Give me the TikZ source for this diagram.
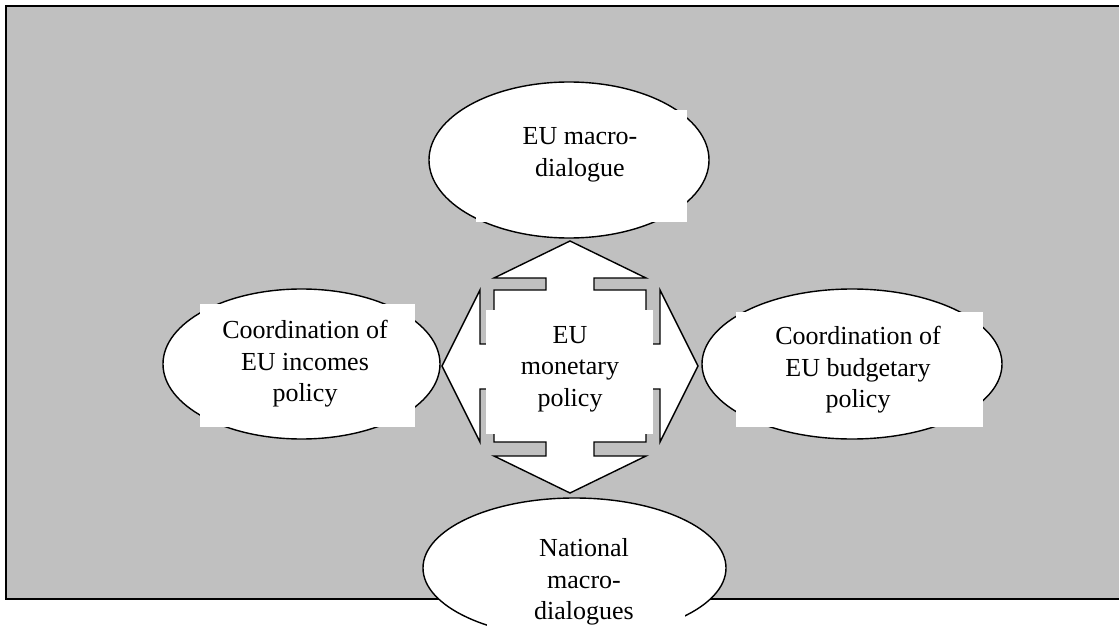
\documentclass[tikz,border=0pt]{standalone}
\usepackage{fontspec}
\setmainfont{Liberation Serif}
\usetikzlibrary{shapes.geometric}
\definecolor{panelgrey}{HTML}{C0C0C0}
\tikzset{
  bubble/.style={ellipse, draw=black, line width=1.4bp, fill=white, inner sep=0pt},
  textbox/.style={fill=white, draw=none, inner sep=0pt},
  label/.style={align=center, inner sep=0pt, font=\fontsize{26bp}{31.5bp}\selectfont},
  quadarrow/.style={draw=black, line width=1.4bp, fill=white, line join=miter}
}
\begin{document}
\begin{tikzpicture}[x=1bp,y=-1bp]
\useasboundingbox (0,0) rectangle (1119,638);
\clip (0,0) rectangle (1119,638);
% background panel
\draw[line width=2bp, fill=panelgrey] (6,6) rectangle (1130,599);
% ellipses
\node[bubble, minimum width=280bp, minimum height=156bp] (topE) at (569,160) {};
\node[bubble, minimum width=277bp, minimum height=150bp] (leftE) at (301.5,364) {};
\node[bubble, minimum width=300bp, minimum height=150bp] (rightE) at (852,364) {};
\node[bubble, minimum width=303bp, minimum height=140bp] (botE) at (574.5,568) {};
% four-way arrow
\draw[quadarrow] (570,241) -- (646,278) -- (594,278) -- (594,290) -- (646,290) -- (646,344)
  -- (660,344) -- (660,290) -- (698,366) -- (660,442) -- (660,389) -- (646,389) -- (646,442)
  -- (594,442) -- (594,456) -- (646,456) -- (570,493) -- (494,456) -- (546,456) -- (546,442)
  -- (494,442) -- (494,389) -- (480,389) -- (480,442) -- (442,366) -- (480,290) -- (480,344)
  -- (494,344) -- (494,290) -- (546,290) -- (546,278) -- (494,278) -- cycle;
% white text boxes
\fill[white] (476,110) rectangle (687,222);
\fill[white] (200,304) rectangle (415,427);
\fill[white] (736,312) rectangle (983,427);
\fill[white] (486,310) rectangle (653,434);
\fill[white] (487,530) rectangle (685,640);
% labels
\node[label] (topT) at (580,155) {EU macro-\\dialogue};
\node[label] (leftT) at (305,364) {Coordination of\\EU incomes\\policy};
\node[label] (rightT) at (858,370) {Coordination of\\EU budgetary\\policy};
\node[label] (midT) at (570,369) {EU\\monetary\\policy};
\node[label] (botT) at (584,582) {National\\macro-\\dialogues};
\end{tikzpicture}
\end{document}
